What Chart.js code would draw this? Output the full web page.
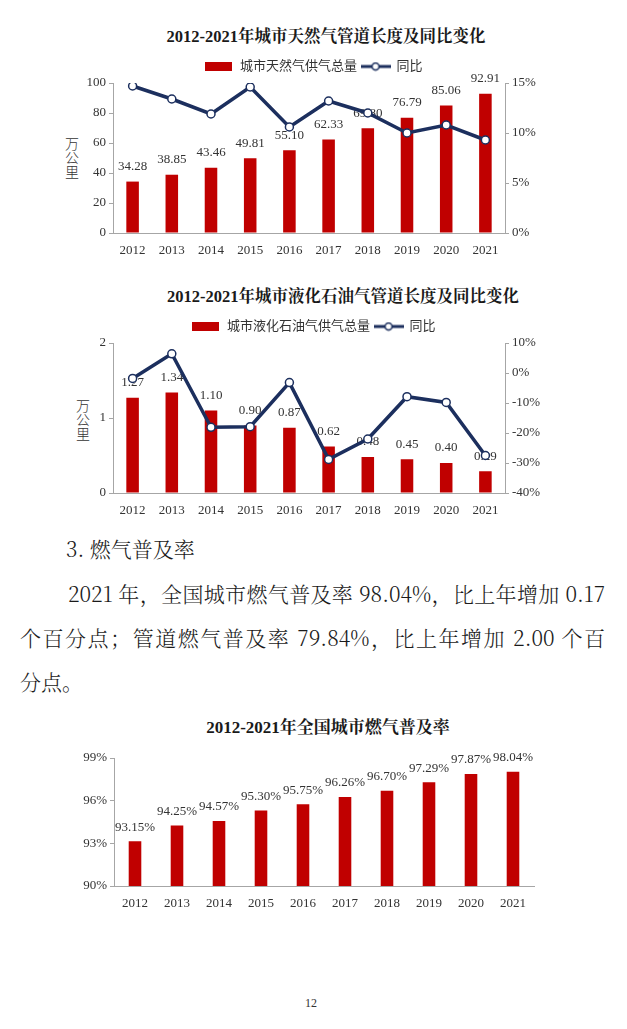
<!DOCTYPE html>
<html><head><meta charset="utf-8">
<script src="https://cdn.jsdelivr.net/npm/chart.js@4/dist/chart.umd.min.js"></script>
<style>
html,body{margin:0;padding:0;background:#fff;}
body{width:627px;height:1029px;position:relative;overflow:hidden;font-family:'Liberation Serif','Noto Serif CJK SC','Noto Sans CJK SC',serif;color:#222;}
.abs{position:absolute;}
.ttl{position:absolute;font-weight:bold;font-size:16.5px;white-space:nowrap;transform:translate(-50%,-50%);color:#1a1a1a;}
.unit{position:absolute;font-family:'Noto Sans CJK SC',sans-serif;font-weight:300;font-size:14px;line-height:14px;width:14px;text-align:center;color:#333;}
.para{position:absolute;font-family:'Noto Serif CJK SC','Noto Sans CJK SC',sans-serif;font-weight:300;font-size:21px;line-height:26px;white-space:nowrap;color:#1a1a1a;}
.just{text-align:justify;text-align-last:justify;white-space:normal;}
canvas{position:absolute;left:0;}
</style>
</head><body>
<div class="ttl" style="left:326px;top:35px;">2012-2021年城市天然气管道长度及同比变化</div>
<div class="unit" style="left:65px;top:136px;">万<br>公<br>里</div>
<canvas id="c1" width="627" height="219" style="top:46px;width:627px;height:219px;"></canvas>

<div class="ttl" style="left:343px;top:295px;">2012-2021年城市液化石油气管道长度及同比变化</div>
<div class="unit" style="left:76px;top:398px;">万<br>公<br>里</div>
<canvas id="c2" width="627" height="219" style="top:306px;width:627px;height:219px;"></canvas>

<div class="para" style="left:66px;top:535px;">3.&nbsp;燃气普及率</div>
<div class="para just" style="left:68px;top:580px;width:537px;">2021 年，全国城市燃气普及率 98.04%，比上年增加 0.17</div>
<div class="para just" style="left:20px;top:624px;width:585px;">个百分点；管道燃气普及率 79.84%，比上年增加 2.00 个百</div>
<div class="para" style="left:20px;top:668px;">分点。</div>

<div class="ttl" style="left:328px;top:725px;font-size:17px;">2012-2021年全国城市燃气普及率</div>
<canvas id="c3" width="627" height="180" style="top:740px;width:627px;height:180px;"></canvas>

<div class="abs" style="left:311px;top:1003px;transform:translate(-50%,-50%);font-size:12px;color:#333;">12</div>

<script>
// ---------- data ----------
const years = ['2012','2013','2014','2015','2016','2017','2018','2019','2020','2021'];
const ngLength = [34.28, 38.85, 43.46, 49.81, 55.10, 62.33, 69.80, 76.79, 85.06, 92.91];
const ngYoY = [14.7, 13.4, 11.9, 14.6, 10.6, 13.2, 12.0, 10.0, 10.8, 9.3];
const lpgLength = [1.27, 1.34, 1.10, 0.90, 0.87, 0.62, 0.48, 0.45, 0.40, 0.29];
const lpgYoY = [-1.8, 6.4, -18.1, -17.9, -3.2, -28.8, -22.0, -7.9, -9.8, -27.5];
const gasRate = [93.15, 94.25, 94.57, 95.30, 95.75, 96.26, 96.70, 97.29, 97.87, 98.04];
const ngSeriesName = '城市天然气供气总量';
const lpgSeriesName = '城市液化石油气供气总量';
const yoyName = '同比';
const ngLeftRange = [0, 100, 20];
const ngRightRange = [0, 15, 5];
const lpgLeftRange = [0, 2, 1];
const lpgRightRange = [-40, 10, 10];
const rateRange = [90, 99, 3];

// ---------- styles ----------
const RED = '#C00000';
const NAVY = '#1C2F5E';
const AXIS = '#A6A6A6';
const TXT = '#333333';
const FONT = "'Liberation Serif','Noto Sans CJK SC',serif";

function swatchBar(){
  const c=document.createElement('canvas'); c.width=27; c.height=9;
  const x=c.getContext('2d'); x.fillStyle=RED; x.fillRect(0,0,27,9); return c;
}
function swatchLine(){
  const c=document.createElement('canvas'); c.width=30; c.height=10;
  const x=c.getContext('2d'); x.strokeStyle=NAVY; x.lineWidth=3;
  x.beginPath(); x.moveTo(0,5); x.lineTo(30,5); x.stroke();
  x.beginPath(); x.arc(15,5,3.5,0,Math.PI*2); x.fillStyle='#fff'; x.fill();
  x.lineWidth=1.5; x.stroke(); return c;
}
const SW_BAR = swatchBar(), SW_LINE = swatchLine();

const barLabels = {
  id:'barLabels',
  afterDatasetDraw(chart, args, opts){
    if(args.meta.type !== 'bar') return;
    const ctx = chart.ctx;
    const ds = chart.data.datasets[args.index];
    ctx.save();
    ctx.font = "13px " + FONT;
    ctx.fillStyle = TXT;
    ctx.textAlign = 'center';
    ctx.textBaseline = 'middle';
    args.meta.data.forEach((el,i)=>{
      ctx.fillText(opts.format(ds.data[i]), el.x, el.y - opts.offset);
    });
    ctx.restore();
  }
};

function xScale(h){
  return {
    grid:{display:false},
    border:{display:true,color:AXIS,width:1},
    ticks:{font:{family:FONT,size:13},color:TXT,padding:2},
    afterFit:s=>{s.height=h;}
  };
}
function yScale(pos, range, fmt, width){
  return {
    position:pos, min:range[0], max:range[1],
    grid:{drawOnChartArea:false,drawTicks:true,tickLength:4,color:AXIS},
    border:{display:true,color:AXIS,width:1},
    ticks:{stepSize:range[2],font:{family:FONT,size:13},color:TXT,padding:3,callback:fmt},
    afterFit:s=>{s.width=width;}
  };
}
function legendOpts(){
  return {
    display:true, position:'top',
    labels:{
      usePointStyle:true, pointStyleWidth:29, padding:4,
      font:{family:FONT,size:13}, color:TXT,
      sort:(a,b)=>a.datasetIndex-b.datasetIndex,
      generateLabels:(chart)=>{
        const items = Chart.defaults.plugins.legend.labels.generateLabels(chart);
        items.forEach(it=>{
          const ds = chart.data.datasets[it.datasetIndex];
          it.pointStyle = ds.type==='line' ? SW_LINE : SW_BAR;
        });
        return items;
      }
    }
  };
}

function comboChart(id, barName, barData, lineData, leftR, rightR, leftFmt){
  return new Chart(document.getElementById(id), {
    type:'bar',
    data:{
      labels:years,
      datasets:[
        {type:'bar', label:barName, data:barData, backgroundColor:RED, yAxisID:'y',
         categoryPercentage:1, barPercentage:0.32, order:1},
        {type:'line', label:yoyName, data:lineData, yAxisID:'y1', borderColor:NAVY, borderWidth:3.5,
         pointRadius:4, pointBackgroundColor:'#fff', pointBorderColor:NAVY, pointBorderWidth:1.5,
         tension:0, order:0}
      ]
    },
    options:{
      responsive:false, animation:false,
      layout:{padding:{top:10,left:0,right:0,bottom:0}},
      plugins:{legend:legendOpts(), tooltip:{enabled:false}, title:{display:false},
        barLabels:{format:v=>v.toFixed(2), offset:15}},
      scales:{
        x:xScale(32),
        y:yScale('left', leftR, leftFmt, 113),
        y1:yScale('right', rightR, v=>v+'%', 122)
      }
    },
    plugins:[barLabels]
  });
}

comboChart('c1', ngSeriesName, ngLength, ngYoY, ngLeftRange, ngRightRange, v=>v);
comboChart('c2', lpgSeriesName, lpgLength, lpgYoY, lpgLeftRange, lpgRightRange, v=>v);

new Chart(document.getElementById('c3'), {
  type:'bar',
  data:{labels:years, datasets:[{label:'全国城市燃气普及率', data:gasRate, backgroundColor:RED,
    categoryPercentage:1, barPercentage:0.3}]},
  options:{
    responsive:false, animation:false,
    layout:{padding:{top:18,left:0,right:93,bottom:0}},
    plugins:{legend:{display:false}, tooltip:{enabled:false},
      barLabels:{format:v=>v.toFixed(2)+'%', offset:14}},
    scales:{
      x:xScale(34),
      y:yScale('left', rateRange, v=>v+'%', 114)
    }
  },
  plugins:[barLabels]
});
</script>
</body></html>
